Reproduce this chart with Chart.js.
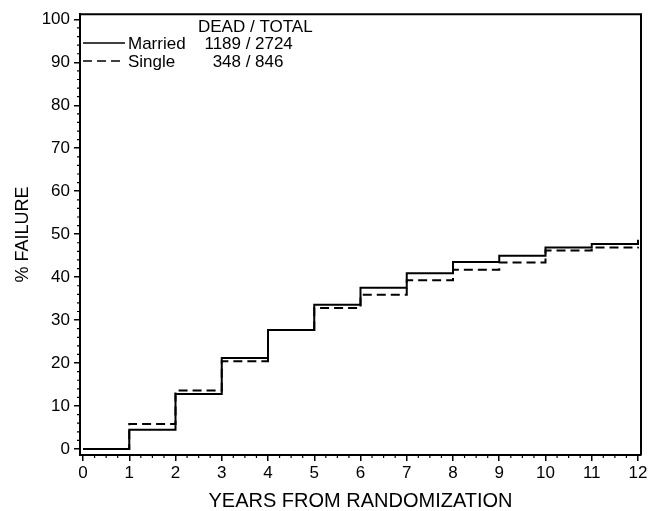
<!DOCTYPE html>
<html>
<head>
<meta charset="utf-8">
<script src="https://cdn.jsdelivr.net/npm/chart.js@4/dist/chart.umd.min.js"></script>
<style>
    html, body { margin: 0; padding: 0; background: #fff; }
    #wrap { width: 657px; height: 511px; }
</style>
</head>
<body>
<div id="wrap"><canvas id="failChart" width="657" height="511"></canvas></div>
<script>
const years = [0, 1, 2, 3, 4, 5, 6, 7, 8, 9, 10, 11, 12];

// cumulative % failure reached at each year (step holds until next year)
const married = [0, 4.5, 12.8, 21.2, 27.7, 33.6, 37.5, 40.9, 43.5, 45.0, 46.9, 47.7, 48.7];
const single = [0, 5.8, 13.6, 20.4, 27.7, 32.8, 35.9, 39.3, 41.7, 43.4, 46.2, 46.9, 47.1];

const groupNames = ["Married", "Single"];
const deadCounts = [1189, 348];
const totalCounts = [2724, 846];

const xTicks = [0, 1, 2, 3, 4, 5, 6, 7, 8, 9, 10, 11, 12];
const yTicks = [0, 10, 20, 30, 40, 50, 60, 70, 80, 90, 100];

const FONT = "'Liberation Sans', Arial, Helvetica, sans-serif";

function points(values) {
    return years.map((x, i) => ({ x: x, y: values[i] }));
}

// frame on top/right plus minor ticks
const framePlugin = {
    id: "frame",
    afterDraw(chart) {
        const c = chart.ctx;
        const a = chart.chartArea;
        const xs = chart.scales.x;
        const ys = chart.scales.y;
        c.save();
        c.strokeStyle = "#000";
        c.lineWidth = 2;
        c.beginPath();
        c.moveTo(a.left, a.top);
        c.lineTo(a.right, a.top);
        c.lineTo(a.right, a.bottom);
        c.stroke();

        c.lineWidth = 1.2;
        c.beginPath();
        for (let v = 0; v <= 12; v += 0.25) {
            if (Number.isInteger(v)) continue;
            const px = xs.getPixelForValue(v);
            c.moveTo(px, a.bottom);
            c.lineTo(px, a.bottom + 3);
        }
        for (let v = 0; v <= 100; v += 2) {
            if (v % 10 === 0) continue;
            const py = ys.getPixelForValue(v);
            c.moveTo(a.left, py);
            c.lineTo(a.left - 3, py);
        }
        c.stroke();
        c.restore();
    }
};

// legend box drawn inside plot area
const legendPlugin = {
    id: "deadTotal",
    afterDraw(chart) {
        const c = chart.ctx;
        c.save();
        c.fillStyle = "#000";
        c.font = "17px " + FONT;
        c.textBaseline = "middle";
        c.textAlign = "left";
        c.fillText("DEAD / TOTAL", 198, 27);

        const rows = [43, 61];
        const dashes = [[], [9, 5]];
        for (let i = 0; i < groupNames.length; i++) {
            const y = rows[i];
            c.strokeStyle = "#000";
            c.lineWidth = 1.6;
            c.setLineDash(dashes[i]);
            c.beginPath();
            c.moveTo(83, y);
            c.lineTo(125, y);
            c.stroke();
            c.setLineDash([]);

            c.textAlign = "left";
            c.fillText(groupNames[i], 128, y + 1);
            c.textAlign = "right";
            c.fillText(String(deadCounts[i]), 241, y + 1);
            c.textAlign = "center";
            c.fillText("/", 248, y + 1);
            c.textAlign = "left";
            c.fillText(String(totalCounts[i]), 255, y + 1);
        }
        c.restore();
    }
};

const ctx = document
    .getElementById("failChart")
    .getContext("2d");

const chart = new Chart(ctx, {
    type: "line",
    data: {
        datasets: [{
            label: groupNames[0],
            data: points(married),
            borderColor: "#000",
            borderWidth: 2,
            stepped: "before",
            pointRadius: 0,
            fill: false
        }, {
            label: groupNames[1],
            data: points(single),
            borderColor: "#000",
            borderWidth: 2,
            borderDash: [9, 5],
            stepped: "before",
            pointRadius: 0,
            fill: false
        }]
    },
    options: {
        responsive: false,
        animation: false,
        layout: {
            padding: { left: 0, right: 16, top: 14, bottom: 0 }
        },
        plugins: {
            legend: { display: false },
            tooltip: { enabled: false }
        },
        scales: {
            x: {
                type: "linear",
                min: -0.065,
                max: 12.065,
                afterBuildTicks: s => { s.ticks = xTicks.map(v => ({ value: v })); },
                afterFit: s => { s.height = 56; },
                grid: {
                    drawOnChartArea: false,
                    drawTicks: true,
                    tickLength: 6,
                    color: "#000",
                    lineWidth: 1.5
                },
                border: { display: true, color: "#000", width: 2 },
                ticks: {
                    color: "#000",
                    padding: 2,
                    maxRotation: 0,
                    autoSkip: false,
                    font: { family: FONT, size: 17 }
                },
                title: {
                    display: true,
                    text: "YEARS FROM RANDOMIZATION",
                    color: "#000",
                    padding: { top: 0, bottom: -2 },
                    font: { family: FONT, size: 20 }
                }
            },
            y: {
                min: -1.4,
                max: 101.2,
                afterBuildTicks: s => { s.ticks = yTicks.map(v => ({ value: v })); },
                afterFit: s => { s.width = 80; },
                grid: {
                    drawOnChartArea: false,
                    drawTicks: true,
                    tickLength: 6,
                    color: "#000",
                    lineWidth: 1.5
                },
                border: { display: true, color: "#000", width: 2 },
                ticks: {
                    color: "#000",
                    padding: 4,
                    autoSkip: false,
                    font: { family: FONT, size: 17 }
                },
                title: {
                    display: true,
                    text: "% FAILURE",
                    color: "#000",
                    padding: { top: 12, bottom: 0 },
                    font: { family: FONT, size: 18 }
                }
            }
        }
    },
    plugins: [framePlugin, legendPlugin]
});
</script>
</body>
</html>
